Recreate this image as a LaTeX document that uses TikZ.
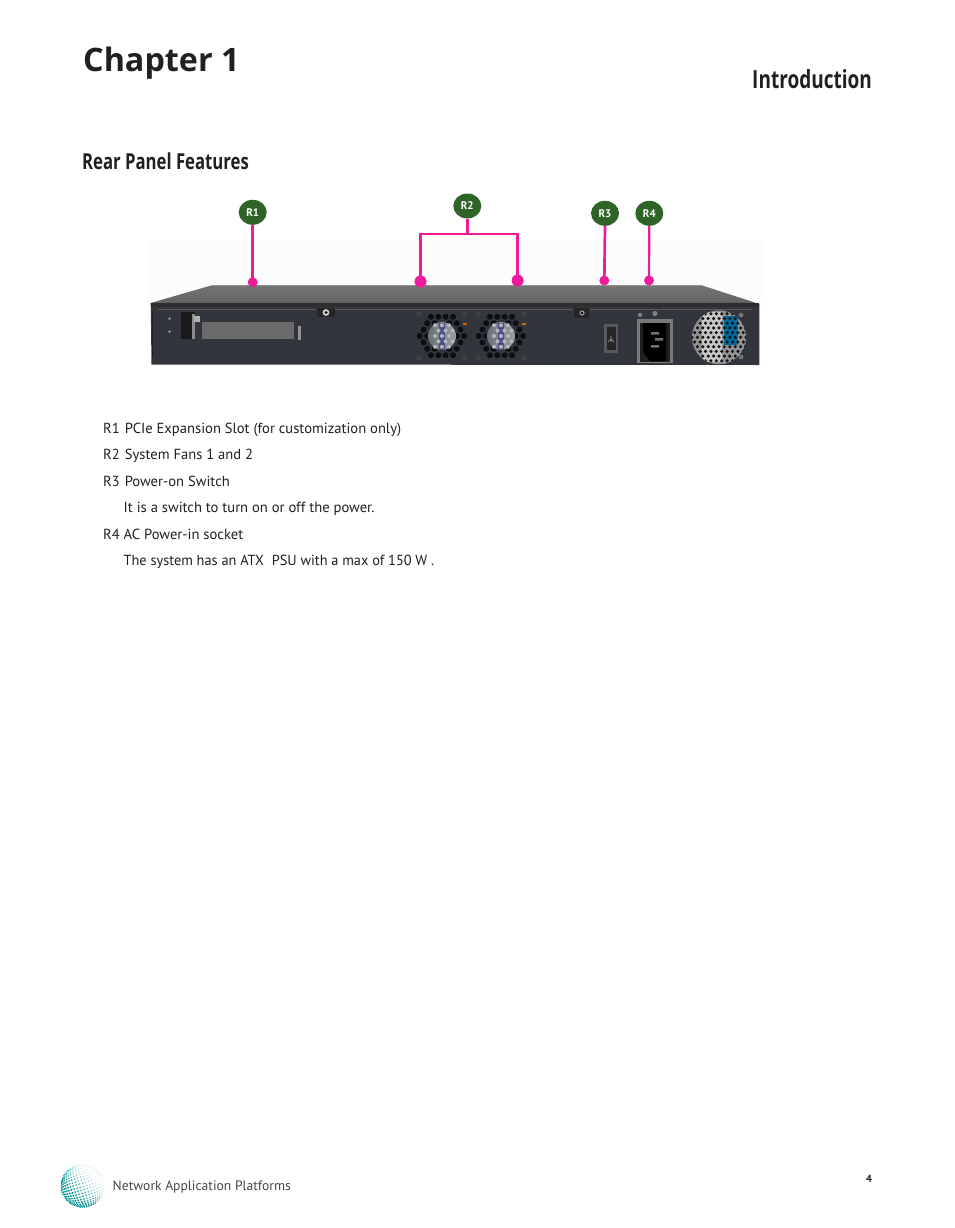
\documentclass[tikz,border=0pt]{standalone}
\usepackage{fontspec}
\setmainfont{PT Sans}
\newfontfamily\headfont{Open Sans}
\definecolor{pinkline}{HTML}{EE1C9C}
\definecolor{tagreen}{HTML}{2F6427}
\definecolor{panelfront}{HTML}{32353C}
\definecolor{holecol}{HTML}{0D0E12}
\definecolor{textcol}{HTML}{231F20}
\usetikzlibrary{shapes.geometric}
\tikzset{
  tagnode/.style={ellipse,fill=tagreen,minimum width=28pt,minimum height=25pt,inner sep=0pt,text=white,font=\bfseries\fontsize{11}{11}\selectfont},
  enddot/.style={circle,fill=pinkline,minimum size=10pt,inner sep=0pt},
  bigdot/.style={circle,fill=pinkline,minimum size=12pt,inner sep=0pt},
  leader/.style={draw=pinkline,line width=2.7pt},
  bodytext/.style={anchor=base west,inner sep=0pt,text=textcol,font=\fontsize{14.6}{16}\selectfont},
}
\definecolor{HubA}{HTML}{6B7078}
\definecolor{HubB}{HTML}{9A9EA4}
\definecolor{HubC}{HTML}{4A4F88}
\definecolor{HubD}{HTML}{B4B8BE}
\newcommand{\fanunit}[2]{%
  \foreach \i in {-5,...,5}{\foreach \j in {-4,...,4}{%
    \pgfmathsetmacro{\px}{(\i+0.5*\j)*7.4}%
    \pgfmathsetmacro{\py}{\j*6.4}%
    \pgfmathtruncatemacro{\keep}{(sqrt(\px*\px+\py*\py)<25.5 && sqrt(\px*\px+\py*\py)>14)?1:0}%
    \ifnum\keep=1 \fill[holecol] ({#1+\px},{#2+\py}) circle (3);\fi
  }}
  \fill[left color=HubA,right color=HubB] (#1,#2) circle (14);
  \fill[HubC] ({#1-3},{#2-13.5}) rectangle ({#1+3},{#2+13.5});
  \foreach \i in {-1,0,1}{\foreach \j in {-2,...,2}{%
    \fill[HubD] ({#1+\i*7+(abs(\j)==1?3.5:0)},{#2+\j*5.4}) circle (2);
  }}
  \fill[gray!50!black] ({#1-23},{#2-22}) circle (2.6);
  \fill[gray!50!black] ({#1+23},{#2-22}) circle (2.6);
  \fill[gray!50!black] ({#1-23},{#2+22}) circle (2.6);
  \fill[gray!50!black] ({#1+23},{#2+22}) circle (2.6);
  \fill[orange!80!black] ({#1+21},{#2-13}) rectangle ({#1+25},{#2-11});
}
\begin{document}
\begin{tikzpicture}[x=1pt,y=-1pt]
\useasboundingbox (0,0) rectangle (954,1228);
\fill[white] (0,0) rectangle (954,1228);
\fill[black!1] (147,240) rectangle (763,300);

% headings
\node[anchor=base west,inner sep=0pt,text=textcol,font=\headfont\bfseries\fontsize{32.3}{36}\selectfont] (chap) at (83,71.5) {Chapter 1};
\node[anchor=base east,inner sep=0pt,text=textcol,font=\headfont\bfseries\fontsize{25}{26}\selectfont,xscale=0.76] (intro) at (872,89) {Introduction};
\node[anchor=base west,inner sep=0pt,text=textcol,font=\headfont\bfseries\fontsize{22}{24}\selectfont,xscale=0.76] (rear) at (82,169) {Rear Panel Features};

% chassis
\shade[top color=black!54,bottom color=black!62] (211.7,285.3) -- (701.7,285.3) -- (759.3,304) -- (150.7,303) -- cycle;
\draw[black!42,line width=0.8pt] (211.7,285.6) -- (701.7,285.6);
\fill[panelfront] (150.7,303) -- (759.3,304) -- (759.3,365) -- (151.5,364.5) -- cycle;
\fill[black!82] (150.7,303) rectangle (759.3,306.5);
\draw[black!65,line width=0.5pt] (158,309) -- (316,309) (335,309) -- (573,309) (590,309) -- (752,309);
\draw[black!88,line width=1pt] (152,311) -- (152,358);

% left area
\fill[black!90] (180.7,311.7) rectangle (195,339);
\fill[black!45] (192,314) rectangle (195,339);
\fill[black!30] (194,316) rectangle (200,322);
\fill[black!58] (202,322) rectangle (294,339.3);
\fill[black!80] (296.7,318) rectangle (301.7,342.7);
\fill[black!42] (297.7,326) rectangle (300.7,340);
\fill[black!45] (169.5,318.5) circle (1.5) (169.5,331.5) circle (1.5);
\fill[black!85] (316.7,308) rectangle (335,317);
\fill[black!18] (326,312.5) circle (3.4);
\fill[black] (326,312.5) circle (1.5);
\fill[black!85] (573.5,308) rectangle (589,318);
\fill[black!40] (582,313) circle (2.6);
\fill[black] (582,313) circle (1.3);

% fans
\fanunit{442}{336}
\fanunit{501}{336}

% switch
\fill[black!65] (604,324) rectangle (618,352.7);
\fill[black!85] (606.5,327) rectangle (615.5,350);
\draw[black!35,line width=0.6pt] (611,336) -- (611,342) (608.5,342) arc (180:360:2.5);

% socket
\fill[black!52] (637.3,318.7) rectangle (672.7,363.3);
\fill[black!88] (640,322.5) rectangle (670,361.5);
\fill[black] (643,323) -- (666,323) -- (666,361) -- (650,361) -- (643,352) -- cycle;
\fill[black!55] (651,332) rectangle (659,334.5) (651,345) rectangle (659,347.5) (655,338) rectangle (663,340.5);
\fill[black!50] (640,315) circle (2.2) (655,313.5) circle (2.6);

% vent
\begin{scope}
\clip (719,337.3) circle (27);
\fill[black!42] (719,337.3) circle (27);
\fill[black!22] (702,312) rectangle (722,362);
\fill[black!30!blue!40!cyan!70!black] (724,316) rectangle (738,345);
\foreach \i in {-8,...,8}{\foreach \j in {-6,...,6}{%
  \pgfmathsetmacro{\vx}{719+(\i+0.5*\j)*5.4}%
  \pgfmathsetmacro{\vy}{337.3+\j*4.7}%
  \fill[black!92] (\vx,\vy) circle (1.75);
}}
\end{scope}
\fill[black!55] (741,315) circle (2.4) (741,357) circle (2.4);

% callouts
\node[tagnode] (tagA) at (252.7,212.3) {R1};
\node[tagnode] (tagB) at (467.3,206) {R2};
\node[tagnode] (tagC) at (605,213.3) {R3};
\node[tagnode] (tagD) at (649.3,213.3) {R4};
\node[enddot] (dotA) at (252.7,282.3) {};
\node[bigdot] (dotBl) at (420.5,281.5) {};
\node[bigdot] (dotBr) at (517.6,280.5) {};
\node[enddot] (dotC) at (604.3,280.5) {};
\node[enddot] (dotD) at (649,280.5) {};
\coordinate (junction) at (467.3,234);
\draw[leader] (tagA.south) -- (dotA.center);
\draw[leader] (tagB.south) -- (junction);
\draw[leader,line join=miter] (dotBl.center) |- (junction) -| (dotBr.center);
\draw[leader] (tagC.south) -- (dotC.center);
\draw[leader,line width=2.2pt] (tagD.south) -- (dotD.center);

% body text
\node[bodytext] (ta) at (103,433.5) {R1\hspace{5pt}PCIe Expansion Slot (for customization only)};
\node[bodytext] (tb) at (103,459.5) {R2\hspace{5pt}System Fans 1 and 2};
\node[bodytext] (tc) at (103,486.3) {R3\hspace{5pt}Power-on Switch};
\node[bodytext] (td) at (123.5,512.5) {It is a switch to turn on or off the power.};
\node[bodytext] (te) at (103,539.3) {R4 AC Power-in socket};
\node[bodytext,xscale=0.981] (tf) at (123.5,565.5) {The system has an ATX\hspace{4pt} PSU with a max of 150 W .};

% globe
\foreach \i in {-15,...,15}{\foreach \j in {-15,...,15}{%
  \pgfmathsetmacro{\gu}{\i*0.094+\j*0.028+0.02}%
  \pgfmathsetmacro{\gv}{\j*0.094-\i*0.028+0.02}%
  \pgfmathsetmacro{\gr}{sqrt(\gu*\gu+\gv*\gv)}%
  \pgfmathtruncatemacro{\keep}{(\gr<0.99)?1:0}%
  \ifnum\keep=1
    \pgfmathsetmacro{\gs}{21.5*sin(\gr*90)/\gr}%
    \pgfmathsetmacro{\gz}{cos(\gr*90)}%
    \pgfmathsetmacro{\gmix}{max(12,min(100,60+70*(\gv-\gu)))}%
    \pgfmathsetmacro{\grad}{0.35+0.85*(0.45+0.55*\gz)*(0.25+0.75*\gmix/100)}%
    \fill[teal!85!cyan!\gmix!white] ({82.7+\gs*\gu},{1185.7+\gs*\gv}) circle (\grad);
  \fi
}}

% footer
\node[anchor=base west,inner sep=0pt,text=black!72,font=\fontsize{13.6}{15}\selectfont] (foot) at (112.5,1190) {Network Application Platforms};
\node[text=textcol,inner sep=0pt,font=\bfseries\fontsize{10.5}{11}\selectfont] (pg) at (869,1179) {4};
\end{tikzpicture}
\end{document}
